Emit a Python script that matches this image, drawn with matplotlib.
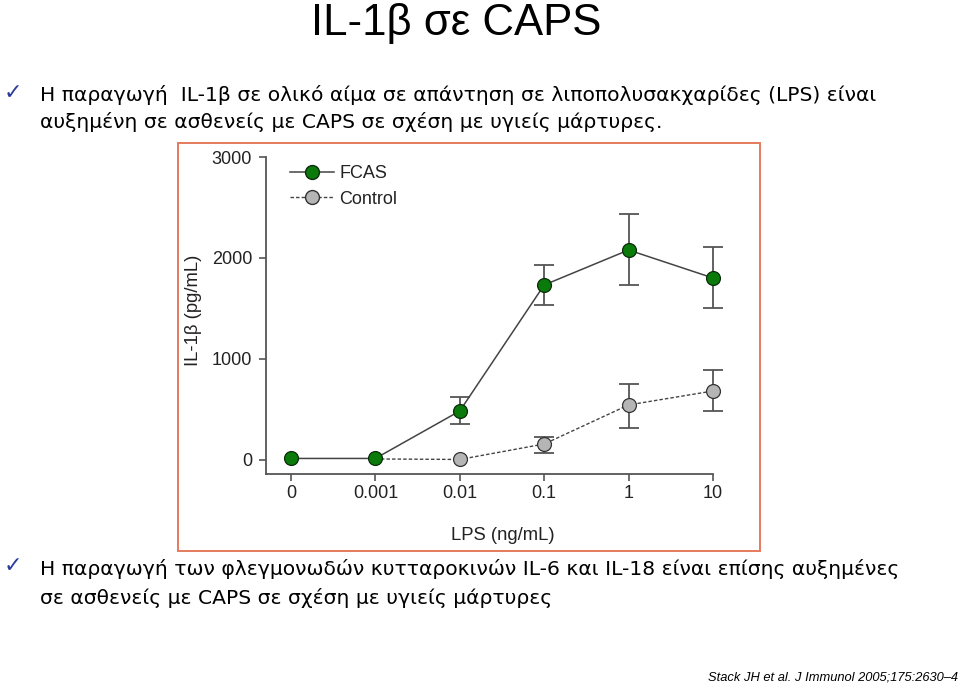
import matplotlib
matplotlib.use("Agg")
import matplotlib.pyplot as plt
from matplotlib.patches import Rectangle
from matplotlib.lines import Line2D
from matplotlib import font_manager as fm

# ---- data ----
categories = ["0", "0.001", "0.01", "0.1", "1", "10"]
fcas_vals = [15, 15, 485, 1733, 2079, 1802]
fcas_lo = [15, 15, 356, 1535, 1733, 1505]
fcas_hi = [15, 15, 624, 1930, 2436, 2109]
ctrl_vals = [10, 10, 5, 158, 545, 683]
ctrl_lo = [10, 10, 5, 70, 317, 485]
ctrl_hi = [10, 10, 5, 228, 752, 891]
yticks = [0, 1000, 2000, 3000]

W, H = 960, 688
fig = plt.figure(figsize=(W / 100, H / 100), dpi=100)

names = {f.name for f in fm.fontManager.ttflist}
narrow = "Liberation Sans Narrow" if "Liberation Sans Narrow" in names else "Liberation Sans"
body_font = ["DejaVu Sans"]
plot_font = ["Liberation Sans", "DejaVu Sans"]

def fx(px):
    return px / W

def fy(py):
    return 1 - py / H

# title
fig.text(fx(456), fy(18.5), "IL-1β σε CAPS", ha="center", va="center_baseline",
         fontsize=31.5, family=[narrow, "DejaVu Sans"], color="black")

# bullets
check_col = "#2b3c9b"
bullet_fs = 14.6
fig.text(fx(4), fy(93), "✓", ha="left", va="center", fontsize=16, color=check_col, family=["DejaVu Sans"])
fig.text(fx(40), fy(95), "Η παραγωγή  IL-1β σε ολικό αίμα σε απάντηση σε λιποπολυσακχαρίδες (LPS) είναι",
         ha="left", va="center", fontsize=bullet_fs, family=body_font)
fig.text(fx(40), fy(122), "αυξημένη σε ασθενείς με CAPS σε σχέση με υγιείς μάρτυρες.",
         ha="left", va="center", fontsize=bullet_fs, family=body_font)
fig.text(fx(4), fy(566), "✓", ha="left", va="center", fontsize=16, color=check_col, family=["DejaVu Sans"])
fig.text(fx(40), fy(569), "Η παραγωγή των φλεγμονωδών κυτταροκινών IL-6 και IL-18 είναι επίσης αυξημένες",
         ha="left", va="center", fontsize=bullet_fs, family=body_font)
fig.text(fx(40), fy(598), "σε ασθενείς με CAPS σε σχέση με υγιείς μάρτυρες",
         ha="left", va="center", fontsize=bullet_fs, family=body_font)

# citation
fig.text(fx(958), fy(678), "Stack JH et al. J Immunol 2005;175:2630–4", ha="right", va="center",
         fontsize=9.3, style="italic", family=[narrow, "DejaVu Sans"])

# chart frame
fig.patches.append(Rectangle((fx(178), fy(551)), fx(760) - fx(178), fy(143) - fy(551),
                             transform=fig.transFigure, fill=False, edgecolor="#e57a5c", lw=1.4))

# axes
ax = fig.add_axes([fx(266), fy(474), fx(713) - fx(266), fy(157) - fy(474)])
x = list(range(len(categories)))
axc = "#555555"

for vals, lo, hi in [(ctrl_vals, ctrl_lo, ctrl_hi), (fcas_vals, fcas_lo, fcas_hi)]:
    for i in range(len(x)):
        if hi[i] > lo[i]:
            eb = ax.errorbar(x[i], vals[i], yerr=[[vals[i] - lo[i]], [hi[i] - vals[i]]], fmt="none",
                             ecolor=axc, elinewidth=1.3, capsize=7, capthick=1.3, zorder=2)
            for art in eb.lines[1] + eb.lines[2]:
                art.set_clip_on(False)

ax.plot(x[1:], ctrl_vals[1:], ls=(0, (2.5, 1.5)), color="#444444", lw=1.0, zorder=3, clip_on=False)
ax.plot(x[2:], ctrl_vals[2:], ls="none", marker="o", ms=10, mfc="#b5b5b5", mec="#333333", mew=0.9,
        zorder=4, clip_on=False)
ax.plot(x, fcas_vals, ls="-", color="#444444", lw=1.1, zorder=5, clip_on=False)
ax.plot(x, fcas_vals, ls="none", marker="o", ms=10, mfc="#0a7a0a", mec="#0b2d0b", mew=0.9,
        zorder=6, clip_on=False)

ax.set_xlim(-0.296, 5)
ax.set_ylim(-139, 3000)
ax.set_xticks(x)
ax.set_xticklabels(categories)
ax.set_yticks(yticks)
ax.set_yticklabels([str(v) for v in yticks])
for s in ["top", "right"]:
    ax.spines[s].set_visible(False)
for s in ["left", "bottom"]:
    ax.spines[s].set_color(axc)
    ax.spines[s].set_linewidth(1.3)
ax.tick_params(colors=axc, width=1.2, length=5, labelcolor="#222222", labelsize=13)
ax.tick_params(axis="x", pad=3)
ax.tick_params(axis="y", pad=5)
for lab in ax.get_xticklabels() + ax.get_yticklabels():
    lab.set_family(plot_font)
ax.patch.set_alpha(0)

fig.text(fx(193), fy(310), "IL-1β (pg/mL)", rotation=90, ha="center", va="center",
         fontsize=13.3, family=plot_font, color="#222222")
fig.text(fx(503), fy(535), "LPS (ng/mL)", ha="center", va="center",
         fontsize=13.3, family=plot_font, color="#222222")

handles = [
    Line2D([], [], color="#444444", lw=1.1, marker="o", ms=10, mfc="#0a7a0a", mec="#0b2d0b"),
    Line2D([], [], color="#444444", lw=1.0, ls=(0, (2.5, 1.5)), marker="o", ms=10, mfc="#b5b5b5", mec="#333333"),
]
leg = ax.legend(handles, ["FCAS", "Control"], loc="upper left", bbox_to_anchor=(fx(285), fy(160)),
                bbox_transform=fig.transFigure, frameon=False, handlelength=2.4, handletextpad=0.3,
                labelspacing=0.45, prop={"family": plot_font, "size": 13}, borderaxespad=0, borderpad=0.3)
for t in leg.get_texts():
    t.set_color("#222222")

fig.savefig("out.png", dpi=100)
